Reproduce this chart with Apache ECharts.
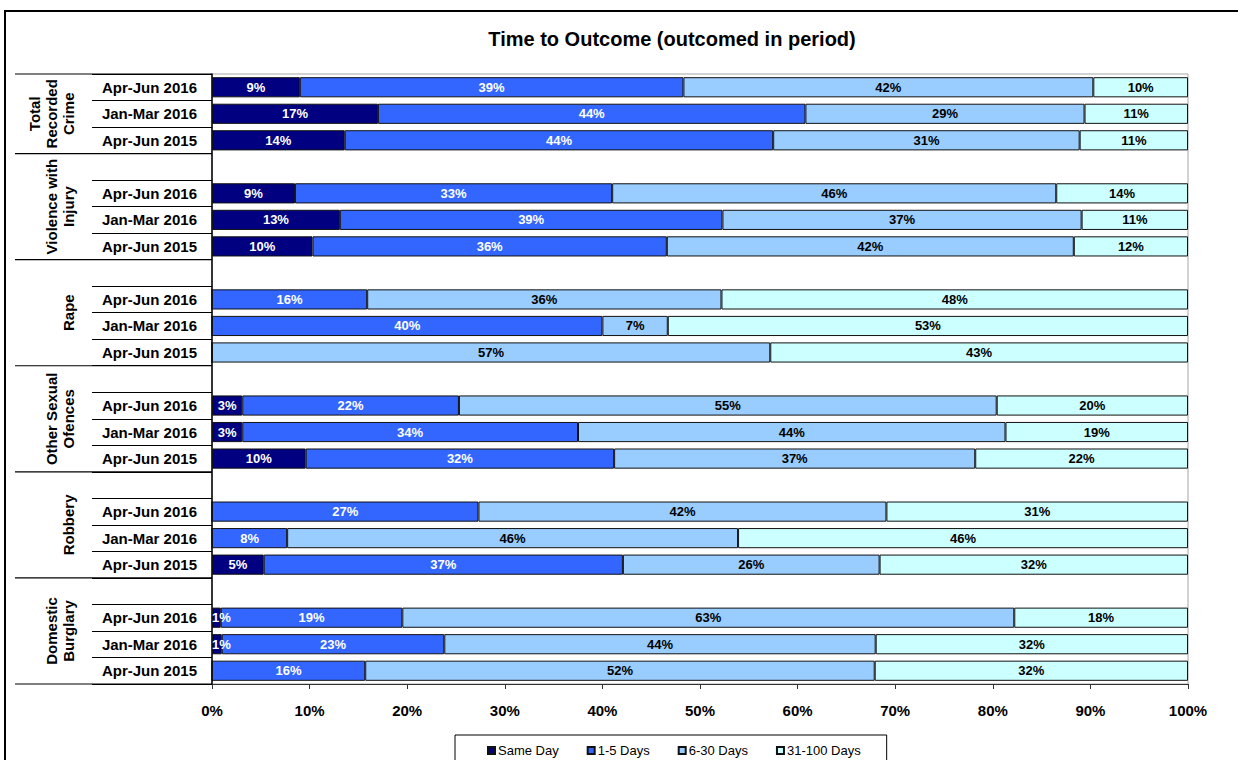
<!DOCTYPE html>
<html><head><meta charset="utf-8">
<script src="https://cdn.jsdelivr.net/npm/echarts@6/dist/echarts.min.js"></script>
<style>html,body{margin:0;padding:0;background:#fff}#c{width:1238px;height:760px}</style>
</head><body><div id="c"></div>
<script>
const chartTitle = 'Time to Outcome (outcomed in period)';
const groupNames = ['Total\nRecorded\nCrime', 'Violence with\nInjury', 'Rape', 'Other Sexual\nOfences', 'Robbery', 'Domestic\nBurglary'];
const periods = ['Apr-Jun 2016', 'Jan-Mar 2016', 'Apr-Jun 2015'];
const seriesNames = ['Same Day', '1-5 Days', '6-30 Days', '31-100 Days'];
const xTickLabels = ['0%', '10%', '20%', '30%', '40%', '50%', '60%', '70%', '80%', '90%', '100%'];
// values in % (group x period order)
const sameDay     = [9.0, 17.0, 13.6,  8.5, 13.1, 10.3,  0,    0,    0,    3.1,  3.1,  9.6,  0,    0,    5.3,  0.9,  1.0,  0];
const days1to5    = [39.3, 43.8, 43.9, 32.5, 39.2, 36.3, 15.9, 40.0, 0,    22.2, 34.4, 31.6, 27.3, 7.7,  36.8, 18.6, 22.8, 15.7];
const days6to30   = [42.0, 28.6, 31.4, 45.5, 36.8, 41.7, 36.3, 6.7,  57.2, 55.1, 43.8, 37.0, 41.8, 46.2, 26.3, 62.7, 44.2, 52.2];
const days31to100 = [9.7, 10.6, 11.1, 13.5, 10.9, 11.7, 47.8, 53.3, 42.8, 19.6, 18.7, 21.8, 30.9, 46.1, 31.6, 17.8, 32.0, 32.1];

const colors = ['#000080', '#3366FF', '#99CCFF', '#CCFFFF'];
const labelColors = ['#fff', '#fff', '#000', '#000'];
const FONT = '"Liberation Sans", Arial, sans-serif';

// build rows: blank row before each group except the first
const rowLabels = [], rowIndex = [], groupRows = [];
groupNames.forEach((g, gi) => {
  const start = rowLabels.length;
  if (gi > 0) { rowLabels.push(''); rowIndex.push(-1); }
  periods.forEach((p, pi) => { rowLabels.push(p); rowIndex.push(gi * 3 + pi); });
  groupRows.push([start, rowLabels.length - 1]);
});
const toRows = arr => rowIndex.map(i => {
  if (i < 0) return null;
  const v = arr[i];
  // tiny segments: keep the label inside the plot like the original
  if (v > 0 && v < 2) return { value: v, label: { position: 'insideLeft', distance: 0 } };
  return v;
});
const allSeries = [sameDay, days1to5, days6to30, days31to100];

const chart = echarts.init(document.getElementById('c'), null, { renderer: 'svg' });
const option = {
  animation: false,
  backgroundColor: '#fff',
  title: {
    text: chartTitle, left: 667, top: 24, textAlign: 'center',
    textStyle: { fontSize: 20, fontWeight: 'bold', color: '#000', fontFamily: FONT }
  },
  grid: { left: 212, right: 50, top: 74, bottom: 76, show: true, borderColor: '#a6a6a6', borderWidth: 1, containLabel: false },
  legend: {
    data: seriesNames, left: 455, top: 735, icon: 'rect', itemWidth: 7, itemHeight: 7, itemGap: 28,
    padding: [9, 26, 12, 32], borderColor: '#000', borderWidth: 1,
    textStyle: { fontSize: 13, color: '#000', fontFamily: FONT, padding: [0, 0, 0, -2] }
  },
  xAxis: {
    type: 'value', min: 0, max: 100, interval: 10,
    axisLine: { show: true, lineStyle: { color: '#333', width: 1 } },
    axisTick: { show: true, length: 5, lineStyle: { color: '#333' } },
    splitLine: { show: false },
    axisLabel: { formatter: v => xTickLabels[Math.round(v / 10)], fontSize: 15, fontWeight: 'bold', color: '#000', fontFamily: FONT, margin: 19 }
  },
  yAxis: {
    type: 'category', data: rowLabels, inverse: true,
    axisLine: { show: true, lineStyle: { color: '#000', width: 1.5 } },
    axisTick: { show: true, length: 120, lineStyle: { color: '#000', width: 1.2 } },
    axisLabel: { fontSize: 15, fontWeight: 'bold', color: '#000', fontFamily: FONT, margin: 15 }
  },
  series: allSeries.map((arr, si) => ({
    name: seriesNames[si], type: 'bar', stack: 'total', barCategoryGap: '24%',
    data: toRows(arr),
    itemStyle: { color: colors[si], borderColor: '#111', borderWidth: 1 },
    label: {
      show: true, position: 'inside', fontSize: 13, fontWeight: 'bold', fontFamily: FONT, color: labelColors[si],
      formatter: p => (p.value > 0 ? Math.round(p.value) + '%' : '')
    }
  }))
};
chart.setOption(option);

// table-like group separators and rotated group labels
const c0 = chart.convertToPixel({ yAxisIndex: 0 }, 0);
const c1 = chart.convertToPixel({ yAxisIndex: 0 }, 1);
const band = c1 - c0;
const axisX = chart.convertToPixel({ xAxisIndex: 0 }, 0);
const rowTop = i => chart.convertToPixel({ yAxisIndex: 0 }, i) - band / 2;
const graphics = [{
  type: 'rect', silent: true, z: -1,
  shape: { x: 5, y: 11, width: 1260, height: 780 },
  style: { fill: 'none', stroke: '#000', lineWidth: 2 }
}];
graphics.push({ type: 'line', silent: true, shape: { x1: 15, y1: rowTop(0), x2: axisX, y2: rowTop(0) }, style: { stroke: '#000', lineWidth: 1.2 } });
groupRows.forEach(([s, e], gi) => {
  const top = rowTop(s), bottom = rowTop(e) + band;
  graphics.push({ type: 'line', silent: true, shape: { x1: 15, y1: bottom, x2: axisX, y2: bottom }, style: { stroke: '#000', lineWidth: 1.2 } });
  graphics.push({
    type: 'text', silent: true, x: 77, y: (top + bottom) / 2, rotation: Math.PI / 2,
    style: { text: groupNames[gi], align: 'center', verticalAlign: 'bottom', fontSize: 15, fontWeight: 'bold', fontFamily: FONT, fill: '#000', lineHeight: 17 }
  });
});
chart.setOption({ graphic: graphics });
</script>
</body></html>
